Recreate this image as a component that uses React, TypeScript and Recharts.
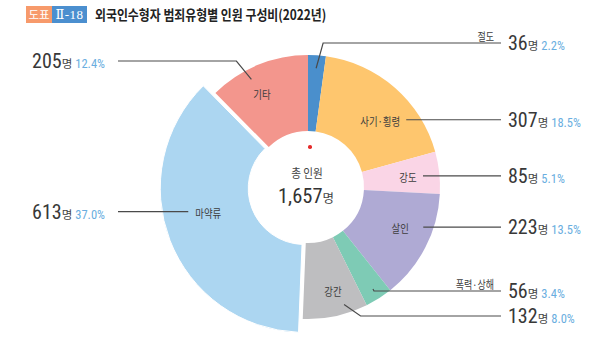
import React from "react";
import { PieChart, Pie, Cell } from "recharts";

// ---------------------------------------------------------------------------
// Data (2022, 외국인수형자 범죄유형별 인원)
// ---------------------------------------------------------------------------

const categories = ["절도", "사기·횡령", "강도", "살인", "폭력·상해", "강간", "마약류", "기타"];
const counts = [36, 307, 85, 223, 56, 132, 613, 205];
const shares = ["2.2", "18.5", "5.1", "13.5", "3.4", "8.0", "37.0", "12.4"];
const totalLabel = "1,657";
const explodedName = "마약류";

const data = categories.map((name, i) => ({ name, value: counts[i], share: shares[i] }));

// ---------------------------------------------------------------------------
// Styles / layout
// ---------------------------------------------------------------------------

const COLORS: Record<string, string> = {
  "절도": "#4a8fcc",
  "사기·횡령": "#fec66e",
  "강도": "#fad5e6",
  "살인": "#afaad4",
  "폭력·상해": "#7ecbb5",
  "강간": "#bebec0",
  "마약류": "#acd6f1",
  "기타": "#f3968d",
};

const KR = "'Noto Sans CJK KR', 'Noto Sans', sans-serif";
const NARROW = "'Liberation Sans Narrow', 'Arial Narrow', 'Roboto Condensed', sans-serif";
const LINE = "#4a4a4a";
const CX = 308;
const CY = 187;
const INNER = 56;
const OUTER = 132;
const EXPLODED_OUTER = 144;
const EXPLODE_BY = 4;
const RIGHT_END = 501;
const LEFT_END = 118;

type Layout = {
  side: "left" | "right";
  mode: "flat" | "bent";
  inner?: { r: number; shift: number };
  gap?: number; // flat: distance from label centre to line start
  start?: { r: number; shift: number }; // bent: polar start point
  elbowDx?: number;
  lineY?: number;
  tag?: boolean; // name written above the line end
};

const layout: Record<string, Layout> = {
  "절도": { side: "right", mode: "bent", start: { r: 119, shift: 0 }, elbowDx: 7, lineY: 43, tag: true },
  "사기·횡령": { side: "right", mode: "flat", inner: { r: 98, shift: 6.3 }, gap: 26 },
  "강도": { side: "right", mode: "flat", inner: { r: 100.5, shift: 0.5 }, gap: 15 },
  "살인": { side: "right", mode: "flat", inner: { r: 101, shift: -3.2 }, gap: 23 },
  "폭력·상해": { side: "right", mode: "bent", start: { r: 121, shift: 0 }, elbowDx: 1, lineY: 291, tag: true },
  "강간": { side: "right", mode: "bent", inner: { r: 107, shift: -1.4 }, start: { r: 123, shift: -5 }, elbowDx: 16.5, lineY: 316 },
  "마약류": { side: "left", mode: "flat", inner: { r: 99, shift: 7 }, gap: 20 },
  "기타": { side: "left", mode: "bent", inner: { r: 104, shift: -4 }, start: { r: 121.5, shift: -5.5 }, elbowDx: -15, lineY: 61 },
};

// clockwise-from-top angle (deg) -> point
const polar = (cx: number, cy: number, r: number, cw: number) => {
  const a = (cw * Math.PI) / 180;
  return { x: cx + r * Math.sin(a), y: cy - r * Math.cos(a) };
};

const explodedIndex = categories.indexOf(explodedName);
const explodedMid = (() => {
  const total = counts.reduce((s, v) => s + v, 0);
  const before = counts.slice(0, explodedIndex).reduce((s, v) => s + v, 0);
  return ((before + counts[explodedIndex] / 2) / total) * 360;
})();
const explodedCenter = polar(CX, CY, EXPLODE_BY, explodedMid);

function KText({ x, y, children, size = 11.5, sx = 0.82, anchor = "middle", fill = "#3d3d3d" }: any) {
  return (
    <text
      transform={`translate(${x},${y}) scale(${sx},1)`}
      textAnchor={anchor}
      dominantBaseline="central"
      fontFamily={KR}
      fontSize={size}
      fill={fill}
    >
      {children}
    </text>
  );
}

function SliceAnnotation(props: any, only: "exploded" | "main") {
  const i = props.index;
  const name = categories[i];
  const isExploded = name === explodedName;
  if ((only === "exploded") !== isExploded) return null;
  const L = layout[name];
  const cx = props.cx as number;
  const cy = props.cy as number;
  const mid = 90 - props.midAngle;

  const innerPos = L.inner ? polar(cx, cy, L.inner.r, mid + L.inner.shift) : null;
  const dir = L.side === "right" ? 1 : -1;
  const endX = L.side === "right" ? RIGHT_END : LEFT_END;

  let points: { x: number; y: number }[] = [];
  let lineY = 0;
  if (L.mode === "flat" && innerPos) {
    lineY = innerPos.y - 1;
    points = [{ x: innerPos.x + dir * (L.gap || 0), y: lineY }, { x: endX, y: lineY }];
  } else if (L.start) {
    lineY = L.lineY as number;
    const s = polar(cx, cy, L.start.r, mid + L.start.shift);
    points = [s, { x: s.x + (L.elbowDx || 0), y: lineY }, { x: endX, y: lineY }];
  }

  const textX = L.side === "right" ? endX + 7 : endX - 13;
  return (
    <g key={`ann-${name}`}>
      {innerPos && (
        <KText x={innerPos.x} y={innerPos.y}>{name}</KText>
      )}
      <polyline
        points={points.map((p) => `${p.x},${p.y}`).join(" ")}
        fill="none"
        stroke={LINE}
        strokeWidth={1.2}
      />
      {L.tag && (
        <KText x={RIGHT_END - 7} y={lineY - 7} anchor="end" size={11}>{name}</KText>
      )}
      <text
        x={textX}
        y={lineY + 7}
        textAnchor={L.side === "right" ? "start" : "end"}
      >
        <tspan fontFamily={NARROW} fontSize={20} fill="#383838">{counts[i]}</tspan>
        <tspan fontFamily={KR} fontSize={11.5} fill="#444">명</tspan>
        <tspan dx={3} fontFamily={NARROW} fontSize={12.5} fill="#6aaee0">{shares[i]}%</tspan>
      </text>
    </g>
  );
}

export default function App() {
  return (
    <div style={{ position: "absolute", left: 0, top: 0, width: 594, height: 351, background: "#fff", overflow: "hidden" }}>
      {/* Title */}
      <div style={{
        position: "absolute", left: 26, top: 6, width: 26, height: 17, background: "#f79a6b",
        color: "#fff", fontFamily: KR, fontSize: 11.5, lineHeight: "17px", textAlign: "center",
      }}>도표</div>
      <div style={{
        position: "absolute", left: 52, top: 6, width: 35, height: 17, background: "#4b8fcf",
        color: "#fff", fontFamily: "'Liberation Serif', 'DejaVu Serif', serif", fontSize: 13,
        lineHeight: "17px", textAlign: "center", letterSpacing: 0.5,
      }}>Ⅱ-18</div>
      <div style={{
        position: "absolute", left: 95, top: 4, fontFamily: KR, fontWeight: 700, fontSize: 14,
        lineHeight: "20px", color: "#222", whiteSpace: "nowrap",
        transform: "scaleX(0.85)", transformOrigin: "left center",
      }}>외국인수형자 범죄유형별 인원 구성비(2022년)</div>

      <PieChart
        width={594}
        height={351}
        margin={{ top: 0, right: 0, bottom: 0, left: 0 }}
        style={{ position: "absolute", left: 0, top: 0 }}
      >
        <Pie
          data={data}
          dataKey="value"
          nameKey="name"
          cx={CX}
          cy={CY}
          innerRadius={INNER}
          outerRadius={OUTER}
          startAngle={90}
          endAngle={-270}
          stroke="none"
          labelLine={false}
          label={(p: any) => SliceAnnotation(p, "main")}
          isAnimationActive={false}
        >
          {data.map((d) => (
            <Cell key={d.name} fill={d.name === explodedName ? "none" : COLORS[d.name]} />
          ))}
        </Pie>
        <Pie
          data={data}
          dataKey="value"
          nameKey="name"
          cx={explodedCenter.x}
          cy={explodedCenter.y}
          innerRadius={INNER}
          outerRadius={EXPLODED_OUTER}
          startAngle={90}
          endAngle={-270}
          labelLine={false}
          label={(p: any) => SliceAnnotation(p, "exploded")}
          isAnimationActive={false}
        >
          {data.map((d) => (
            <Cell
              key={d.name}
              fill={d.name === explodedName ? COLORS[d.name] : "none"}
              stroke={d.name === explodedName ? "#fff" : "none"}
              strokeWidth={1}
            />
          ))}
        </Pie>
      </PieChart>

      {/* Centre total */}
      <div style={{ position: "absolute", left: 310 - 1.8, top: 147 - 1.8, width: 3.6, height: 3.6, borderRadius: "50%", background: "#e52b2b" }} />
      <div style={{
        position: "absolute", left: 257, width: 100, top: 164, textAlign: "center",
        fontFamily: KR, fontSize: 12.5, lineHeight: "18px", color: "#444",
        transform: "scaleX(0.85)",
      }}>총 인원</div>
      <div style={{
        position: "absolute", left: 256, width: 100, top: 183, textAlign: "center",
        lineHeight: "26px", color: "#333", whiteSpace: "nowrap",
      }}>
        <span style={{ fontFamily: NARROW, fontSize: 20.5 }}>{totalLabel}</span>
        <span style={{ fontFamily: KR, fontSize: 12.5, color: "#444" }}>명</span>
      </div>
    </div>
  );
}
